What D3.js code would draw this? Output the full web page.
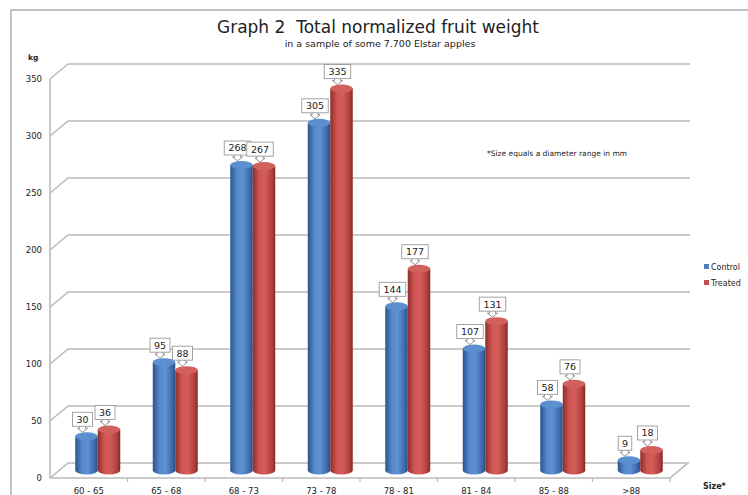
<!DOCTYPE html>
<html>
<head>
<meta charset="utf-8">
<script src="https://cdn.jsdelivr.net/npm/d3@7"></script>
<style>
  body { margin: 0; background: #fff; }
  text { font-family: "DejaVu Sans", sans-serif; fill: #222; }
</style>
</head>
<body>
<script>
// fruit weight per size class
const categories = ['60 - 65', '65 - 68', '68 - 73', '73 - 78', '78 - 81', '81 - 84', '85 - 88', '>88']
const control = [30, 95, 268, 305, 144, 107, 58, 9]
const treated = [36, 88, 267, 335, 177, 131, 76, 18]
const yTicks = [0, 50, 100, 150, 200, 250, 300, 350]
const seriesNames = ['Control', 'Treated']

const w = 748
const h = 495
const dx = 18, dy = -15   // depth of the 3d box

const svg = d3.select('body')
  .append('svg')
  .attr('width', w)
  .attr('height', h)

const defs = svg.append('defs')
const grad = (id, stops) => {
  const g = defs.append('linearGradient').attr('id', id)
    .attr('x1', '0%').attr('x2', '100%').attr('y1', '0%').attr('y2', '0%')
  stops.forEach(s => g.append('stop').attr('offset', s[0]).attr('stop-color', s[1]))
}
grad('gBlue', [['0%', '#2b548c'], ['30%', '#5689cc'], ['55%', '#5e92d4'], ['85%', '#3e6cae'], ['100%', '#2a4f85']])
grad('gRed', [['0%', '#8e2d2a'], ['30%', '#cf5653'], ['55%', '#d45c59'], ['85%', '#b2403d'], ['100%', '#832826']])
const tops = ['#5b8fd0', '#d2605d']

// outer frame
svg.append('rect')
  .attr('x', 11).attr('y', 10)
  .attr('width', 760).attr('height', 500)
  .attr('fill', 'none').attr('stroke', '#999').attr('stroke-width', 1.2)

svg.append('text').attr('x', 378).attr('y', 33)
  .attr('text-anchor', 'middle').attr('font-size', 17)
  .style('white-space', 'pre')
  .text('Graph 2  Total normalized fruit weight')
svg.append('text').attr('x', 380).attr('y', 47)
  .attr('text-anchor', 'middle').attr('font-size', 9.5)
  .text('in a sample of some 7.700 Elstar apples')

const x = d3.scaleBand().domain(categories).range([50, 670])
const y = d3.scaleLinear().domain([0, 350]).range([478, 79])

// walls and gridlines
const grid = svg.append('g').attr('stroke', '#bbbbbb').attr('stroke-width', 1.6).attr('fill', 'none')
yTicks.forEach(t => {
  if (t > 0) {
    grid.append('path')
      .attr('d', `M50,${y(t)}L${50 + dx},${y(t) + dy}L${690},${y(t) + dy}`)
  }
})
grid.append('path')
  .attr('d', `M50,${y(0)}L670,${y(0)}L${670 + dx},${y(0) + dy}L${50 + dx},${y(0) + dy}L50,${y(0)}`)
grid.append('line').attr('x1', 50).attr('x2', 50).attr('y1', y(350)).attr('y2', y(0))

const yAxis = svg.append('g')
  .attr('transform', 'translate(50,0)')
  .call(d3.axisLeft(y).tickValues(yTicks).tickSize(0).tickPadding(8))
yAxis.select('.domain').remove()
yAxis.selectAll('text').attr('font-size', 8.5).attr('fill', '#333').style('font-family', '"DejaVu Sans", sans-serif')

const xAxis = svg.append('g')
  .attr('transform', `translate(0,${y(0)})`)
  .call(d3.axisBottom(x).tickSize(0).tickPadding(10))
xAxis.select('.domain').remove()
xAxis.selectAll('text').attr('font-size', 8.5).attr('fill', '#333').style('font-family', '"DejaVu Sans", sans-serif')
svg.append('g').selectAll('line')
  .data(categories.slice(1).concat(['end']))
  .enter().append('line')
  .attr('x1', d => d === 'end' ? 670 : x(d)).attr('x2', d => d === 'end' ? 670 : x(d))
  .attr('y1', y(0)).attr('y2', y(0) + 4)
  .attr('stroke', '#bbbbbb').attr('stroke-width', 1.2)

svg.append('text').attr('x', 28).attr('y', 60).attr('font-size', 7.5).attr('font-weight', 'bold').text('kg')
svg.append('text').attr('x', 703).attr('y', 489).attr('font-size', 8).attr('font-weight', 'bold').text('Size*')
svg.append('text').attr('x', 487).attr('y', 156).attr('font-size', 7.5).text('*Size equals a diameter range in mm')

// cylinders
const bw = 22.5
const ry = 4
const bars = []
categories.forEach((c, i) => {
  const cx = x(c) + x.bandwidth() / 2 + dx / 2
  bars.push({ s: 0, v: control[i], x0: cx - bw })
  bars.push({ s: 1, v: treated[i], x0: cx })
})
const bg = svg.append('g')
bars.forEach(b => {
  const yb = y(0) + dy / 2
  const yt = y(b.v) + dy / 2
  const x0 = b.x0, x1 = b.x0 + bw, r = bw / 2
  bg.append('path')
    .attr('d', `M${x0},${yt}L${x0},${yb}A${r},${ry} 0 0 0 ${x1},${yb}L${x1},${yt}Z`)
    .attr('fill', b.s ? 'url(#gRed)' : 'url(#gBlue)')
  bg.append('ellipse')
    .attr('cx', x0 + r).attr('cy', yt).attr('rx', r).attr('ry', ry)
    .attr('fill', tops[b.s])
})

// value callouts
const lg = svg.append('g')
bars.forEach(b => {
  const yt = y(b.v) + dy / 2
  const txt = String(b.v)
  const bwid = txt.length * 6.5 + 7
  const cx = b.x0 + bw / 2 - 4
  const by = yt - ry - 20
  lg.append('path')
    .attr('d', `M${cx - 3},${by + 13}L${cx - 3},${by + 16}L${cx - 5},${by + 16}L${cx},${by + 20}L${cx + 5},${by + 16}L${cx + 3},${by + 16}L${cx + 3},${by + 13}`)
    .attr('fill', '#fff').attr('stroke', '#888').attr('stroke-width', 0.9)
  lg.append('rect')
    .attr('x', cx - bwid / 2).attr('y', by).attr('width', bwid).attr('height', 14)
    .attr('fill', '#fff').attr('stroke', '#999').attr('stroke-width', 0.9)
  lg.append('text')
    .attr('x', cx).attr('y', by + 10.5)
    .attr('text-anchor', 'middle').attr('font-size', 9.5)
    .text(txt)
})

// legend
const legendColors = ['#4f81bd', '#c0504d']
seriesNames.forEach((n, i) => {
  svg.append('rect').attr('x', 704).attr('y', 264 + i * 16).attr('width', 5).attr('height', 5)
    .attr('fill', legendColors[i])
  svg.append('text').attr('x', 711).attr('y', 270 + i * 16).attr('font-size', 8).text(n)
})
</script>
</body>
</html>
